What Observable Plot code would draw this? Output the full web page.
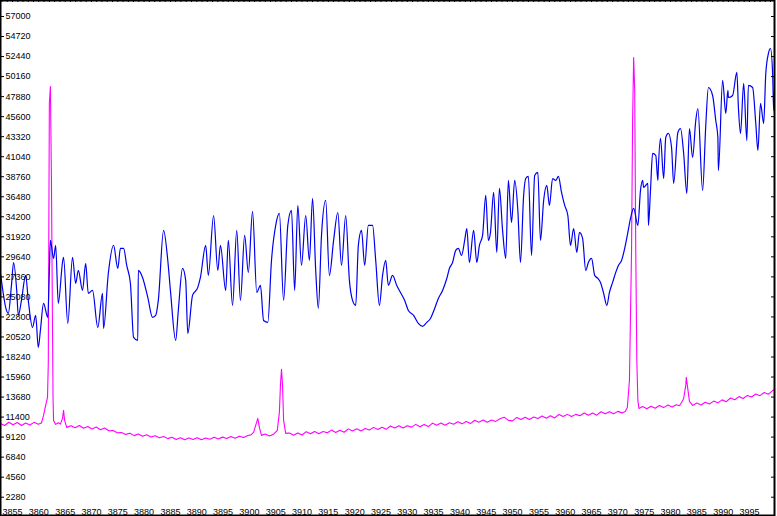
<!DOCTYPE html>
<html><head><meta charset="utf-8">
<script src="https://cdn.jsdelivr.net/npm/d3@7"></script>
<script src="https://cdn.jsdelivr.net/npm/@observablehq/plot@0.6"></script>
<style>html,body{margin:0;padding:0;background:#fff}svg{display:block}</style>
</head><body><div id="chart"></div>
<script>
// ---- Data (wavelength in Å, flux in counts) ----
const blueWavelength = [
3852.7,3853.3,3853.7,3854.2,3854.8,3855.2,3855.8,3856.1,3856.7,3857.5,
3858.0,3858.8,3859.4,3859.9,3860.3,3860.9,3861.7,3862.0,3862.2,3862.8,
3863.2,3863.7,3864.5,3864.7,3865.5,3866.4,3867.0,3867.5,3868.3,3868.9,
3869.4,3870.2,3871.2,3872.1,3872.3,3873.2,3874.2,3875.0,3875.5,3876.1,
3876.7,3877.4,3878.0,3878.8,3878.9,3879.7,3880.7,3881.6,3882.2,3882.7,
3883.7,3884.5,3885.0,3886.0,3886.5,3887.3,3887.9,3888.3,3889.2,3890.2,
3890.7,3891.7,3892.2,3893.2,3894.0,3894.5,3895.5,3896.0,3896.8,3897.6,
3898.3,3899.1,3899.8,3900.6,3901.4,3902.1,3902.7,3903.5,3904.2,3905.0,
3905.7,3906.5,3907.3,3908.0,3908.6,3909.2,3909.9,3910.7,3911.4,3912.0,
3912.6,3913.1,3913.7,3914.5,3915.2,3916.0,3916.8,3917.5,3918.3,3919.0,
3919.6,3920.2,3920.7,3921.3,3921.9,3922.6,3923.4,3924.0,3924.7,3925.3,
3925.9,3926.4,3927.2,3928.0,3928.7,3929.5,3930.2,3931.2,3932.1,3932.9,
3933.7,3934.4,3935.2,3935.9,3936.7,3937.5,3938.0,3938.6,3939.2,3939.7,
3940.3,3940.9,3941.3,3941.8,3942.6,3943.2,3943.7,3944.3,3944.9,3945.4,
3945.8,3946.4,3947.0,3947.5,3948.1,3948.7,3949.2,3949.8,3950.4,3951.0,
3951.5,3952.1,3952.5,3953.0,3953.6,3954.2,3954.8,3955.3,3955.9,3956.5,
3957.0,3957.6,3958.2,3958.7,3959.3,3959.9,3960.5,3961.0,3961.6,3962.2,
3962.7,3963.3,3963.9,3964.4,3965.0,3965.6,3966.2,3966.7,3967.3,3967.9,
3968.4,3969.0,3969.6,3970.1,3970.7,3971.3,3971.9,3972.4,3973.0,3973.8,
3974.3,3974.7,3974.9,3975.7,3975.8,3976.2,3976.6,3977.2,3977.6,3977.7,
3978.1,3978.7,3979.1,3979.6,3980.2,3980.6,3981.4,3981.9,3982.5,3983.1,
3983.6,3984.2,3984.8,3985.2,3986.1,3986.7,3987.2,3988.0,3988.6,3989.0,
3989.1,3989.9,3990.5,3990.9,3991.0,3991.8,3992.6,3992.9,3993.3,3993.9,
3994.5,3994.8,3995.6,3996.2,3996.6,3997.1,3997.7,3998.1,3998.6,3999.0,
3999.4,3999.6,4000.0,4000.3
];
const blueFlux = [
27870,25250,23880,23200,26390,29000,25820,22970,24680,27530,
24680,21610,22970,19330,21270,24340,22750,28090,31510,29460,
30940,24340,29000,29570,22060,29570,26610,28090,25820,28890,
25480,25820,21610,25480,21490,27750,30940,28320,30600,30600,
28660,26610,20470,20130,28090,27300,25020,22750,22970,24680,
32650,29230,25820,20130,23540,28320,26960,20930,25250,26160,
27300,30940,27530,34350,28090,30940,25820,31510,24110,32650,
24680,32080,27870,34810,25590,26390,22400,22180,29230,33220,
34580,24680,33220,34920,25820,35490,28660,34350,29230,36290,
28090,23770,32080,36060,27530,31510,34690,28660,34350,26960,
24680,24110,30940,32650,28660,33220,33220,29230,24110,27530,
29230,26390,27530,26390,25590,24680,23540,22970,22060,21720,
22180,22630,23770,24910,25820,27180,28320,29000,30370,30600,
29800,31510,32870,29000,32650,29000,30940,32080,36630,31510,
32420,36970,30140,37430,32650,29460,38340,33560,38340,34920,
29000,36630,38560,38790,29800,38910,39250,31510,36060,37770,
35490,38560,38340,38790,36970,35490,34350,30940,32870,30140,
32420,31740,28090,29000,29460,27530,27180,26730,25480,24110,
25590,26730,27870,28660,29230,30600,32420,34010,35150,33220,
37200,38340,37540,38000,33220,37200,41410,41180,38340,39820,
43120,38560,43230,43690,42090,38000,43800,44250,41410,36860,
44250,40950,45160,46530,37200,44600,48920,48010,45160,43230,
39470,49720,45960,48580,47780,48010,50630,46640,43690,49380,
42890,49150,48920,44820,41750,47100,44820,50510,52790,53360,
50510,46300,52790,51990
];
const magentaWavelength = [
3852.7,3853.5,3854.3,3855.1,3855.9,3856.7,3857.5,3858.3,3859.1,3859.9,
3860.5,3860.9,3861.3,3861.65,3861.8,3862.0,3862.2,3862.4,3862.6,3862.7,3862.8,3863.2,3863.7,3864.1,3864.5,3864.7,3864.9,3865.3,
3866.1,3866.9,3867.7,3868.5,3869.3,3870.1,3870.9,3871.7,3872.5,3873.3,
3874.1,3874.9,3875.7,3876.5,3877.3,3878.1,3878.9,3879.7,3880.5,3881.3,
3882.1,3882.9,3883.7,3884.5,3885.3,3886.1,3886.9,3887.7,3888.5,3889.3,
3890.1,3890.9,3891.7,3892.5,3893.3,3894.1,3894.9,3895.7,3896.5,3897.3,
3898.1,3898.9,3899.7,
3900.3,3900.8,3901.2,3901.6,3901.9,3902.3,3903.0,3903.8,3904.6,3905.3,3905.7,3905.9,3906.1,3906.3,3906.5,3906.9,
3907.6,3908.4,3909.2,3910.0,3910.8,3911.6,3912.4,3913.2,3914.0,3914.8,
3915.6,3916.4,3917.2,3918.0,3918.8,3919.6,3920.4,3921.2,3922.0,3922.8,
3923.6,3924.4,3925.2,3926.0,3926.8,3927.6,3928.4,3929.2,3930.0,3930.8,
3931.6,3932.4,3933.2,3934.0,3934.8,3935.6,3936.4,3937.2,3938.0,3938.8,
3939.6,3940.4,3941.2,3942.0,3942.8,3943.6,3944.4,3945.2,3946.0,3946.8,
3947.6,3948.4,3949.2,3950.0,3950.8,3951.6,3952.4,3953.2,3954.0,3954.8,
3955.6,3956.4,3957.2,3958.0,3958.8,3959.6,3960.4,3961.2,3962.0,3962.8,
3963.6,3964.4,3965.2,3966.0,3966.8,3967.6,3968.4,3969.2,3970.0,3970.8,
3971.4,3971.8,3972.2,3972.6,3972.8,3973.0,3973.2,3973.4,3973.6,3973.8,3974.0,
3974.7,3975.5,3976.3,3977.1,3977.9,3978.7,3979.5,3980.3,3981.1,3981.7,
3982.1,3982.5,3982.9,3983.0,3983.2,3983.6,3984.2,
3985.0,3985.8,3986.6,3987.4,3988.2,3989.0,3989.8,3990.6,3991.4,3992.2,
3993.0,3993.8,3994.6,3995.4,3996.2,3997.0,3997.8,3998.6,3999.4,4000.0
];
const magentaFlux = [
10680,10450,10820,10530,10790,10440,10730,10510,10800,10580,
10730,11590,12730,13640,17510,47100,49030,38340,21270,13640,11020,10570,10760,10600,11250,12160,11020,10230,
10420,10180,10450,10130,10330,10050,10270,9960,10160,9840,
9870,9620,9640,9430,9570,9290,9470,9210,9390,9130,
9280,9040,9190,8950,9110,8860,9050,8830,9020,8850,
9060,8820,9030,8880,9100,8910,9120,8960,9190,9000,
9230,9070,9300,
9380,9660,10460,11250,10230,9320,9480,9250,9450,9890,11930,15010,16830,15010,11020,9550,
9580,9330,9600,9360,9740,9510,9760,9510,9760,9610,
9920,9650,9910,9670,10060,9820,10070,9820,10100,9930,
10230,9980,10250,10010,10390,10160,10410,10160,10410,10260,
10570,10300,10560,10320,10710,10470,10720,10470,10750,10580,
10880,10630,10900,10660,11040,10810,11060,10810,11060,10910,
11220,11390,11030,10970,11360,11120,11370,11120,11400,11230,
11530,11280,11550,11310,11690,11460,11710,11460,11710,11560,
11870,11600,11860,11620,12010,11770,12020,11770,12050,11880,
12050,12500,15580,30370,45160,52330,48580,30370,17850,13300,12390,
12600,12340,12640,12410,12720,12480,12770,12540,12800,12700,
13070,13530,15010,15920,15010,13190,12730,
13000,12780,13090,12890,13220,13020,13360,13160,13570,13380,
13730,13520,13870,13680,14030,13840,14200,14010,14420,14600
];
const yTickValues = [2280,4560,6840,9120,11400,13680,15960,18240,20520,22800,25080,27360,29640,31920,34200,36480,38760,41040,43320,45600,47880,50160,52440,54720,57000];
const xTickValues = [3855,3860,3865,3870,3875,3880,3885,3890,3895,3900,3905,3910,3915,3920,3925,3930,3935,3940,3945,3950,3955,3960,3965,3970,3975,3980,3985,3990,3995];
const minorTickValues = d3.range(3853, 4000, 1);

if (blueWavelength.length !== blueFlux.length) throw new Error("blue length mismatch " + blueWavelength.length + " vs " + blueFlux.length);
if (magentaWavelength.length !== magentaFlux.length) throw new Error("magenta length mismatch " + magentaWavelength.length + " vs " + magentaFlux.length);

const blue = blueWavelength.map((w, i) => ({w, f: blueFlux[i]}));
const magenta = magentaWavelength.map((w, i) => ({w, f: magentaFlux[i]}));

const W = 777, H = 516, mR = 3, mB = 1;
const frameW = W - mR, frameH = H - mB;
const font = "'Liberation Sans', Arial, sans-serif";

const chart = Plot.plot({
  width: W, height: H,
  marginLeft: 0, marginRight: mR, marginTop: 0, marginBottom: mB,
  x: {domain: [3852.72, 3852.72 + frameW / 5.264], axis: null},
  y: {domain: [58821 - frameH * 113.83, 58821], axis: null},
  style: {fontFamily: font, background: "white", color: "black"},
  marks: [
    Plot.line(magenta, {x: "w", y: "f", stroke: "#ff00ff", strokeWidth: 1.1, clip: true}),
    Plot.line(blue, {x: "w", y: "f", stroke: "#0000f0", strokeWidth: 1.2, curve: "monotone-x", clip: true}),
    Plot.tickY(yTickValues, {y: d => d, insetRight: frameW - 4, stroke: "black"}),
    Plot.tickY(yTickValues, {y: d => d, insetLeft: frameW - 3, stroke: "black"}),
    Plot.tickX(minorTickValues, {x: d => d, insetBottom: frameH - 2, stroke: "black"}),
    Plot.text(yTickValues, {y: d => d, text: d => String(d), frameAnchor: "left", textAnchor: "start", dx: 5, fill: "black", fontSize: 9}),
    Plot.text(xTickValues, {x: d => d, text: d => String(d), frameAnchor: "bottom", lineAnchor: "bottom", dy: -1, fill: "black", fontSize: 9}),
    Plot.frame({stroke: "black", strokeWidth: 2})
  ]
});
document.getElementById("chart").appendChild(chart);
</script>
</body></html>
